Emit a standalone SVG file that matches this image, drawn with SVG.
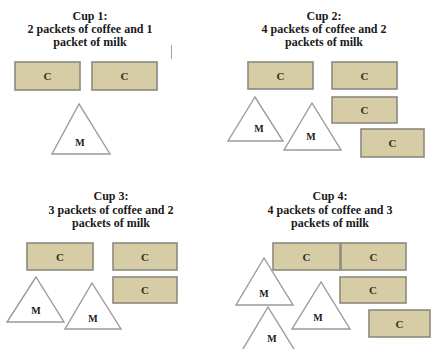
<svg xmlns="http://www.w3.org/2000/svg" width="431" height="349" viewBox="0 0 431 349">
  <style>
    .title { font-family: "Liberation Serif", "Times New Roman", serif; font-weight: bold; font-size: 12px; fill: #1a1a1a; text-anchor: middle; }
    .coffee rect { fill: #d6cca6; stroke: #8c8a7e; stroke-width: 1.6; }
    .coffee text { font-family: "Liberation Serif", serif; font-weight: bold; font-size: 11px; fill: #33301e; text-anchor: middle; dominant-baseline: central; }
    .milk polygon { fill: #ffffff; stroke: #9a9a9a; stroke-width: 1.4; stroke-linejoin: miter; }
    .milk text { font-family: "Liberation Serif", serif; font-weight: bold; font-size: 10px; fill: #1a1a1a; text-anchor: middle; dominant-baseline: central; }
  </style>
  <rect width="431" height="349" fill="#ffffff"/>

  <!-- Cup 1 -->
  <g id="cup1">
    <text class="title" x="90" y="20">Cup 1:</text>
    <text class="title" x="90" y="33">2 packets of coffee and 1</text>
    <text class="title" x="90" y="46">packet of milk</text>
    <line x1="171.5" y1="45" x2="171.5" y2="59" stroke="#a0a0a0" stroke-width="1"/>
    <g id="cup1-c1" class="coffee"><rect x="15" y="62" width="65" height="28"/><text x="47.5" y="76">C</text></g>
    <g id="cup1-c2" class="coffee"><rect x="92" y="62" width="65" height="28"/><text x="124.5" y="76">C</text></g>
    <g id="cup1-m1" class="milk"><polygon points="79,104 52,154 110,154"/><text x="80" y="142">M</text></g>
  </g>

  <!-- Cup 2 -->
  <g id="cup2">
    <text class="title" x="324" y="20">Cup 2:</text>
    <text class="title" x="324" y="33">4 packets of coffee and 2</text>
    <text class="title" x="324" y="46">packets of milk</text>
    <g id="cup2-c1" class="coffee"><rect x="248" y="62" width="65" height="27"/><text x="280.5" y="75.5">C</text></g>
    <g id="cup2-c2" class="coffee"><rect x="332" y="62" width="65" height="27"/><text x="364.5" y="75.5">C</text></g>
    <g id="cup2-c3" class="coffee"><rect x="332" y="97" width="65" height="26"/><text x="364.5" y="110">C</text></g>
    <g id="cup2-c4" class="coffee"><rect x="361" y="129" width="63" height="28"/><text x="392.5" y="143">C</text></g>
    <g id="cup2-m1" class="milk"><polygon points="255,97 228,141 283,141"/><text x="259" y="128">M</text></g>
    <g id="cup2-m2" class="milk"><polygon points="312,103 284,150 341,150"/><text x="311" y="136">M</text></g>
  </g>

  <!-- Cup 3 -->
  <g id="cup3">
    <text class="title" x="111" y="200">Cup 3:</text>
    <text class="title" x="111" y="214">3 packets of coffee and 2</text>
    <text class="title" x="111" y="227">packets of milk</text>
    <g id="cup3-c1" class="coffee"><rect x="27" y="243" width="66" height="27"/><text x="60" y="256.5">C</text></g>
    <g id="cup3-c2" class="coffee"><rect x="113" y="243" width="64" height="27"/><text x="145" y="256.5">C</text></g>
    <g id="cup3-c3" class="coffee"><rect x="113" y="277" width="64" height="26"/><text x="145" y="290">C</text></g>
    <g id="cup3-m1" class="milk"><polygon points="36,277 7,322 64,322"/><text x="36" y="310">M</text></g>
    <g id="cup3-m2" class="milk"><polygon points="92,283 65,329 121,329"/><text x="93" y="318">M</text></g>
  </g>

  <!-- Cup 4 -->
  <g id="cup4">
    <text class="title" x="330" y="200">Cup 4:</text>
    <text class="title" x="330" y="214">4 packets of coffee and 3</text>
    <text class="title" x="330" y="227">packets of milk</text>
    <g id="cup4-c1" class="coffee"><rect x="273" y="243" width="67" height="27"/><text x="306.5" y="256.5">C</text></g>
    <g id="cup4-c2" class="coffee"><rect x="341" y="243" width="65" height="27"/><text x="373.5" y="256.5">C</text></g>
    <g id="cup4-c3" class="coffee"><rect x="340" y="277" width="66" height="26"/><text x="373" y="290">C</text></g>
    <g id="cup4-c4" class="coffee"><rect x="369" y="310" width="61" height="27"/><text x="399.5" y="323.5">C</text></g>
    <g id="cup4-m1" class="milk"><polygon points="264,258 236,305 293,305"/><text x="264" y="293">M</text></g>
    <g id="cup4-m2" class="milk"><polygon points="321,282 292,329 350,329"/><text x="318" y="317">M</text></g>
    <g id="cup4-m3" class="milk"><polygon points="268,307 240,354 297,354"/><text x="272" y="338">M</text></g>
  </g>
</svg>
